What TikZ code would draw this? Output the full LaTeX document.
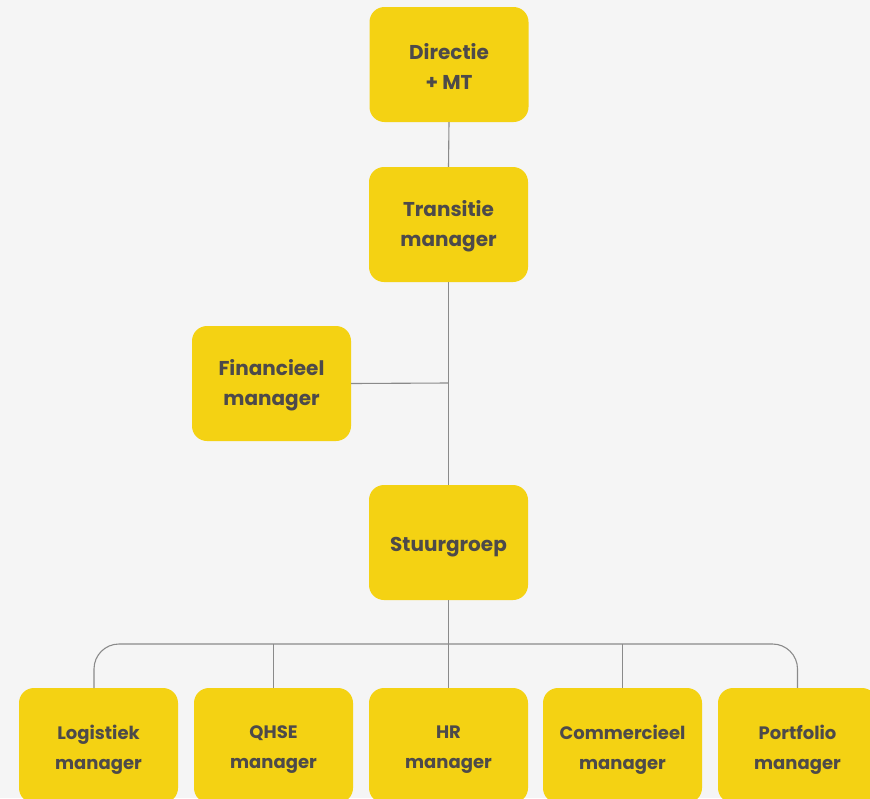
\documentclass[tikz,border=0pt]{standalone}
\usepackage{fontspec}
\setmainfont{Poppins}
\definecolor{bg}{HTML}{F5F5F5}
\definecolor{boxy}{HTML}{F4D213}
\definecolor{txt}{HTML}{4D4A4A}
\definecolor{ln}{HTML}{8A8A8A}
\tikzset{
  box/.style={fill=boxy, draw=none, rounded corners=15pt, minimum width=159pt, minimum height=115pt, inner sep=0pt},
  lbl/.style={align=center, text=txt, font=\fontsize{20}{30}\selectfont\bfseries, inner sep=0pt},
  slbl/.style={lbl, font=\fontsize{18}{30}\selectfont\bfseries},
  conn/.style={draw=ln, line width=1.1pt}
}
\begin{document}
\begin{tikzpicture}[x=1pt,y=-1pt]
\fill[bg] (0,0) rectangle (870,798);
\useasboundingbox (0,0) rectangle (870,798);
\node[box] (dir) at (449,64.5) {};
\node[box] (trans) at (448.5,224.5) {};
\node[box] (fin) at (271.5,383.5) {};
\node[box] (stuur) at (448.5,542.5) {};
\node[box] (log) at (98.5,745.5) {};
\node[box] (qhse) at (273.5,745.5) {};
\node[box] (hr) at (448.5,745.5) {};
\node[box] (comm) at (622.5,745.5) {};
\node[box] (port) at (797.5,745.5) {};
\node[lbl] (dirt) at ([yshift=-2pt]dir.center) {Directie\\+ MT};
\node[lbl] (transt) at ([yshift=-2pt]trans.center) {Transitie\\manager};
\node[lbl] (fint) at ([yshift=-2pt]fin.center) {Financieel\\manager};
\node[lbl] (stuurt) at ([yshift=-5pt]stuur.center) {Stuurgroep};
\node[slbl] (logt) at ([yshift=-4pt]log.center) {Logistiek\\manager};
\node[slbl] (qhset) at ([yshift=-4pt]qhse.center) {QHSE\\manager};
\node[slbl] (hrt) at ([yshift=-4pt]hr.center) {HR\\manager};
\node[slbl] (commt) at ([yshift=-4pt]comm.center) {Commercieel\\manager};
\node[slbl] (portt) at ([yshift=-4pt]port.center) {Portfolio\\manager};
\coordinate (bus) at (448.5,644);
\coordinate (fj) at (448.5,383);
\coordinate (logtop) at (94,688);
\draw[conn] (dir.south) -- (trans.north);
\draw[conn] (trans.south) -- (stuur.north);
\draw[conn] (fin.east) -- (fj);
\draw[conn] (stuur.south) -- (bus);
\draw[conn, rounded corners=25pt] (logtop) |- (bus) -| (port.north);
\draw[conn] (qhse.north) -- (qhse.north |- bus);
\draw[conn] (comm.north) -- (comm.north |- bus);
\draw[conn] (hr.north) -- (hr.north |- bus);
\end{tikzpicture}
\end{document}
